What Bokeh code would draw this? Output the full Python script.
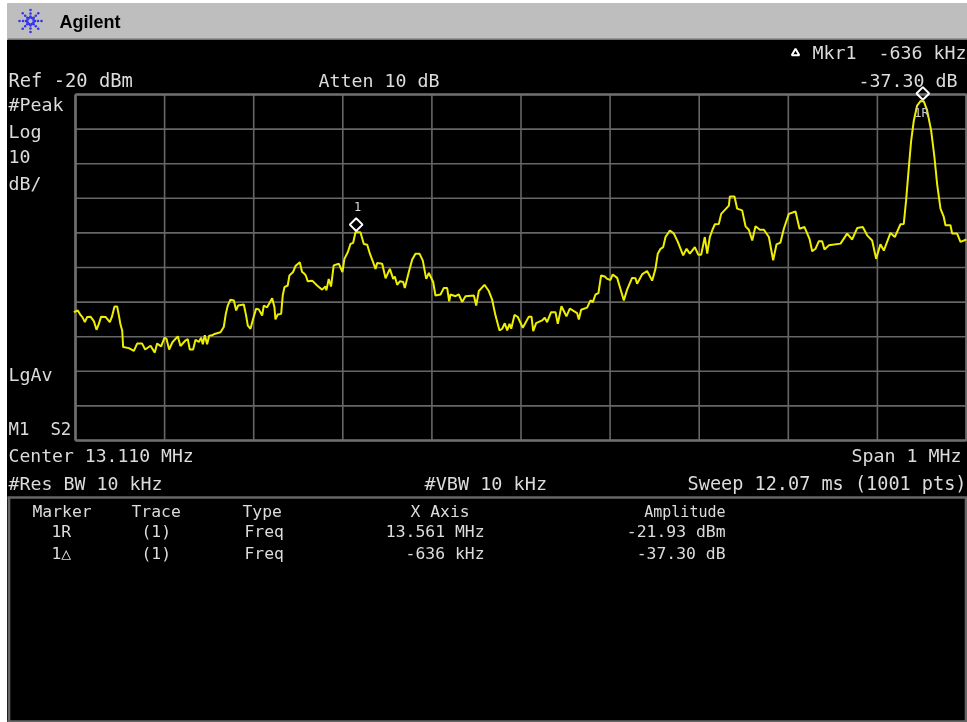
from bokeh.plotting import figure
from bokeh.models import Range1d
from bokeh.core.properties import value
from bokeh.embed import file_html
from bokeh.resources import INLINE
import math

# ---- data ----
freq_mhz = [12.6081,12.6126,12.6156,12.6179,12.6205,12.6231,12.6268,12.6306,12.6336,12.6362,12.6388,12.6437,12.6485,12.6508,12.6538,12.6568,12.6590,12.6605,12.6624,12.6635,12.6699,12.6755,12.6792,12.6848,12.6882,12.6942,12.6990,12.7016,12.7061,12.7099,12.7121,12.7151,12.7188,12.7248,12.7278,12.7334,12.7360,12.7383,12.7420,12.7447,12.7484,12.7510,12.7529,12.7551,12.7577,12.7600,12.7633,12.7660,12.7727,12.7764,12.7787,12.7809,12.7839,12.7877,12.7903,12.7925,12.7989,12.8015,12.8034,12.8064,12.8094,12.8127,12.8157,12.8195,12.8213,12.8251,12.8307,12.8333,12.8344,12.8370,12.8408,12.8426,12.8445,12.8482,12.8501,12.8542,12.8569,12.8617,12.8643,12.8662,12.8684,12.8707,12.8756,12.8812,12.8868,12.8905,12.8916,12.8942,12.8968,12.8998,12.9055,12.9096,12.9118,12.9156,12.9186,12.9216,12.9242,12.9298,12.9336,12.9374,12.9404,12.9441,12.9467,12.9486,12.9542,12.9580,12.9628,12.9666,12.9684,12.9710,12.9740,12.9778,12.9796,12.9841,12.9879,12.9916,12.9961,12.9998,13.0036,13.0066,13.0114,13.0140,13.0197,13.0234,13.0271,13.0294,13.0309,13.0365,13.0402,13.0440,13.0477,13.0571,13.0597,13.0627,13.0690,13.0739,13.0776,13.0814,13.0859,13.0889,13.0918,13.0945,13.0971,13.0990,13.1027,13.1064,13.1120,13.1188,13.1218,13.1237,13.1270,13.1337,13.1367,13.1393,13.1438,13.1487,13.1513,13.1554,13.1610,13.1648,13.1730,13.1749,13.1775,13.1842,13.1880,13.1906,13.1936,13.1969,13.1999,13.2040,13.2067,13.2104,13.2130,13.2179,13.2216,13.2254,13.2291,13.2347,13.2385,13.2403,13.2459,13.2515,13.2572,13.2609,13.2635,13.2666,13.2696,13.2722,13.2771,13.2816,13.2860,13.2920,13.2958,13.2995,13.3051,13.3089,13.3122,13.3163,13.3190,13.3219,13.3246,13.3276,13.3320,13.3347,13.3433,13.3444,13.3496,13.3526,13.3582,13.3620,13.3657,13.3695,13.3732,13.3781,13.3826,13.3882,13.3930,13.3968,13.4012,13.4050,13.4106,13.4181,13.4226,13.4282,13.4338,13.4368,13.4405,13.4443,13.4480,13.4506,13.4555,13.4686,13.4760,13.4817,13.4873,13.4936,13.4985,13.5041,13.5086,13.5134,13.5172,13.5247,13.5295,13.5359,13.5396,13.5422,13.5453,13.5479,13.5509,13.5546,13.5584,13.5621,13.5658,13.5703,13.5740,13.5770,13.5808,13.5845,13.5864,13.5920,13.5939,13.5995,13.6032,13.6099]
level_dbm = [-82.9,-82.4,-83.7,-84.4,-85.8,-84.3,-84.2,-85.5,-88.0,-86.3,-84.2,-84.3,-85.8,-84.3,-81.3,-81.3,-84.3,-86.5,-88.2,-93.0,-93.3,-94.1,-92.0,-92.0,-93.7,-92.6,-94.6,-92.0,-92.8,-90.3,-90.6,-93.7,-91.6,-89.9,-92.7,-91.1,-90.7,-93.7,-93.7,-90.9,-91.5,-90.3,-92.2,-89.6,-92.2,-89.7,-89.6,-89.2,-88.7,-87.2,-83.4,-81.0,-79.3,-79.5,-82.4,-81.0,-80.7,-83.9,-86.8,-87.7,-84.8,-81.9,-82.1,-83.9,-81.0,-81.5,-78.9,-81.5,-85.0,-83.6,-83.4,-78.1,-75.7,-75.2,-72.3,-71.3,-69.6,-68.5,-71.3,-71.6,-72.3,-74.0,-73.8,-75.2,-76.4,-75.5,-76.6,-73.3,-75.5,-69.4,-68.9,-71.3,-67.5,-65.6,-63.2,-62.9,-59.8,-59.8,-63.2,-63.4,-66.0,-68.5,-70.4,-68.7,-68.9,-73.1,-70.4,-73.3,-72.6,-75.0,-74.0,-74.2,-75.9,-71.3,-67.7,-66.0,-66.0,-68.0,-73.3,-71.6,-74.2,-78.1,-77.8,-75.9,-75.9,-79.8,-77.8,-78.3,-77.8,-80.0,-78.3,-78.1,-81.0,-76.8,-75.0,-76.8,-79.3,-83.9,-88.2,-87.7,-86.1,-88.2,-86.3,-87.7,-83.7,-84.3,-87.4,-84.2,-84.2,-88.4,-86.1,-85.3,-84.5,-85.8,-82.9,-82.9,-86.3,-81.2,-84.1,-81.9,-83.2,-85.0,-82.2,-81.6,-79.5,-80.0,-77.8,-77.4,-72.3,-72.6,-73.3,-73.6,-72.0,-73.0,-76.2,-79.5,-76.4,-73.0,-73.1,-74.7,-72.0,-71.0,-73.8,-70.4,-66.0,-64.6,-64.1,-61.2,-59.3,-60.2,-62.6,-66.5,-64.6,-66.0,-64.1,-66.3,-66.3,-61.2,-66.0,-61.2,-59.3,-57.5,-57.4,-54.5,-52.1,-49.5,-49.5,-53.0,-53.5,-58.1,-59.1,-62.2,-58.1,-59.1,-59.1,-61.2,-67.9,-63.3,-62.8,-58.8,-54.5,-53.8,-58.8,-58.3,-61.7,-65.3,-64.6,-62.4,-62.4,-64.8,-63.6,-63.1,-60.2,-61.9,-58.6,-58.3,-60.7,-62.2,-67.5,-63.3,-65.1,-60.0,-61.2,-57.5,-57.4,-50.6,-41.0,-33.3,-27.5,-23.2,-21.9,-22.0,-24.6,-30.4,-38.1,-45.8,-53.0,-55.4,-57.8,-57.8,-60.2,-60.2,-62.6,-61.9]
grid_freqs = [12.61,12.71,12.81,12.91,13.01,13.11,13.21,13.31,13.41,13.51,13.61]
grid_levels = [-20,-30,-40,-50,-60,-70,-80,-90,-100,-110,-120]
marker_freqs = [12.925,13.561]
marker_levels = [-57.6,-19.7]

X0, X1 = 75.0, 966.0      # graticule in window pixels
Y0, Y1 = 94.0, 440.0
mhz_per_px = 1.0 / (X1 - X0)
db_per_px = 100.0 / (Y1 - Y0)

p = figure(width=967, height=722, output_backend="svg", toolbar_location=None,
           min_border=0,
           x_range=Range1d(12.61 - X0 * mhz_per_px, 13.61 + (967 - X1) * mhz_per_px),
           y_range=Range1d(-120 - (722 - Y1) * db_per_px, -20 + Y0 * db_per_px),
           x_axis_location=None, y_axis_location=None,
           background_fill_color="white", border_fill_color="white", outline_line_color=None)
p.grid.visible = False
p.styles = {"position": "fixed", "left": "0px", "top": "0px"}
p.extra_x_ranges = {"px": Range1d(0, 967)}
p.extra_y_ranges = {"px": Range1d(722, 0)}
PX = dict(x_range_name="px", y_range_name="px")

# instrument chrome
p.quad(left=[7], right=[967], top=[39.5], bottom=[722], color="black", **PX)
p.quad(left=[7], right=[967], top=[3], bottom=[38], color="#bebebe", **PX)
p.segment([7], [38.7], [967], [38.7], line_color="#707070", line_width=1.3, **PX)

# Agilent spark: eight rays of dots with short ones between
lx, ly = [], []
for k in range(8):
    a = k * math.pi / 4
    for r in (4.5, 7.5, 11):
        lx.append(30 + math.cos(a) * r)
        ly.append(20.5 + math.sin(a) * r)
    a2 = a + math.pi / 8
    lx.append(30 + math.cos(a2) * 3.2)
    ly.append(20.5 + math.sin(a2) * 3.2)
p.scatter(lx, ly, size=2.6, color="#3434ee", line_color=None, **PX)

# graticule
p.segment(grid_freqs, [-20] * len(grid_freqs), grid_freqs, [-120] * len(grid_freqs), line_color="#666666", line_width=1.6)
p.segment([12.61] * len(grid_levels), grid_levels, [13.61] * len(grid_levels), grid_levels, line_color="#666666", line_width=1.6)
p.segment([12.61, 12.61, 13.61, 12.61], [-20, -120, -20, -20], [13.61, 13.61, 13.61, 12.61], [-20, -120, -120, -120],
          line_color="#6e6e6e", line_width=2.6)

# table frame
p.segment([7, 8.5, 965.5, 7], [497, 497, 497, 721], [967, 8.5, 965.5, 967], [497, 722, 722, 721],
          line_color="#666666", line_width=2.6, **PX)

# trace and markers
p.line(freq_mhz, level_dbm, line_color="#eeee00", line_width=2)
p.scatter(marker_freqs, marker_levels, marker="square", angle=math.pi / 4, size=9, fill_color="black", fill_alpha=0,
          line_color="white", line_width=2)
p.scatter([795], [52.5], marker="triangle", size=7.5, fill_color="black", line_color="white", line_width=2, **PX)

MONO = "DejaVu Sans Mono"
def txt(x, y, s, size=18.3, align="left", color="#dcdcdc", font=MONO, style="normal"):
    p.text([x], [y], text=[s], text_font=value(font), text_font_size=f"{size}px", text_align=align,
           text_baseline="middle", text_color=color, text_font_style=style, **PX)

NB = "\u00a0"
txt(59, 21, "Agilent", 18, color="black", font="Liberation Sans", style="bold")
txt(966, 52, f"Mkr1{NB}{NB}-636 kHz", align="right")
txt(957, 80, "-37.30 dB", align="right")
txt(8, 80, "Ref -20 dBm", 18.8)
txt(318, 80, "Atten 10 dB")
txt(8, 104, "#Peak")
txt(8, 131, "Log")
txt(8, 156, "10")
txt(8, 183, "dB/")
txt(8, 374, "LgAv")
txt(8, 428, f"M1{NB}{NB}S2", 17.4)
txt(8, 455, "Center 13.110 MHz", 18.1)
txt(961, 455, "Span 1 MHz", align="right")
txt(8, 483, "#Res BW 10 kHz")
txt(424, 483, "#VBW 10 kHz", 18.5)
txt(966, 483, "Sweep 12.07 ms (1001 pts)", 18.55, align="right")

# marker labels
txt(357, 206, "1", 12, align="center")
txt(921, 112, "1R", 12.5, align="center", color="#c8c8c8")

T = 16.4
for x, s in [(32, "Marker"), (131, "Trace"), (242, "Type"), (410, "X Axis")]:
    txt(x, 511, s, T)
txt(725, 511, "Amplitude", 15, align="right")
for x, s in [(51, "1R"), (141, "(1)"), (244, "Freq")]:
    txt(x, 531, s, T)
for x, s in [(51, "1△"), (141, "(1)"), (244, "Freq")]:
    txt(x, 553, s, T)
txt(484, 531, "13.561 MHz", T, align="right")
txt(725, 531, "-21.93 dBm", T, align="right")
txt(484, 553, "-636 kHz", T, align="right")
txt(725, 553, "-37.30 dB", T, align="right")

open("out.html", "w").write(file_html(p, INLINE))
